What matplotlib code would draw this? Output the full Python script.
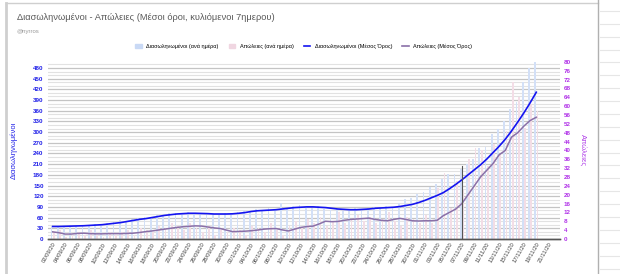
import pandas as pd
import numpy as np
import matplotlib.pyplot as plt
from matplotlib.lines import Line2D
from matplotlib.patches import Patch

plt.rcParams['font.family'] = ['Liberation Sans', 'DejaVu Sans']

# dates 02/09/20 .. 19/11/20 (one value per day)
dates = pd.date_range('2020-09-02', '2020-11-19', freq='D')
tick_dates = pd.date_range('2020-09-02', '2020-11-21', freq='2D')
tick_labels = [d.strftime('%d/%m/%y') for d in tick_dates]

# Διασωληνωμένοι ανά ημέρα (αριστερός άξονας)
intubated_daily = [36, 33, 38, 35, 37, 40, 36, 42, 41, 44,
                   47, 52, 48, 55, 58, 62, 60, 66, 68, 72,
                   74, 71, 76, 70, 73, 68, 71, 67, 72, 70,
                   76, 80, 78, 84, 82, 86, 83, 100, 88, 92,
                   95, 90, 87, 92, 85, 80, 84, 79, 83, 86,
                   84, 88, 90, 87, 92,
                   91, 102, 113, 116, 125, 133, 147, 153, 167, 181,
                   181, 195, 210, 224, 255, 258, 295, 309, 331, 365,
                   385, 441, 479, 498]
# Απώλειες ανά ημέρα (δεξιός άξονας)
deaths_daily = [3, 4, 1, 2, 3, 2, 4, 2, 1, 3,
                2, 3, 4, 2, 5, 4, 3, 6, 5, 7,
                6, 4, 7, 5, 3, 6, 2, 4, 3, 5,
                4, 2, 6, 5, 3, 7, 4, 2, 6, 8,
                5, 9, 7, 10, 6, 8, 12, 7, 9, 11,
                8, 10, 7, 9, 12, 8, 6, 10, 9, 7,
                11, 7, 23, 30, 14, 26, 22, 36, 41, 40,
                33, 43, 38, 49, 71, 64, 50, 61, 58]
# μέσοι όροι 7ημέρου
intubated_avg = [35, 35, 35.5, 36, 36.5, 37, 38, 39, 40, 42,
                 44, 46, 49, 52, 55, 57, 60, 63, 66, 68,
                 70, 71, 72, 72, 71.5, 71, 70, 70, 70, 70.5,
                 72, 74, 77, 79, 80, 81, 82, 84, 86, 88,
                 89, 90, 90, 89, 88, 86, 84, 83, 82, 82,
                 83, 84, 86, 87, 88, 89, 91, 94, 97, 102,
                 108, 115, 122, 130, 141, 153, 166, 180, 194, 208,
                 224, 242, 260, 280, 303, 328, 354, 382, 412]
deaths_avg = [3.2, 2.8, 2.2, 2.2, 2.5, 2.6, 2.4, 2.3, 2.3, 2.4,
              2.4, 2.4, 2.5, 2.6, 2.9, 3.3, 3.6, 4.0, 4.4, 4.8,
              5.2, 5.5, 5.7, 5.9, 5.8, 5.4, 5.0, 4.7, 4.0, 3.3,
              3.4, 3.5, 3.7, 4.0, 4.4, 4.6, 4.7, 4.1, 3.6, 4.4,
              5.2, 5.6, 5.8, 6.8, 8.0, 7.8, 7.9, 8.4, 8.8, 9.0,
              9.2, 9.4, 8.8, 8.4, 8.2, 8.8, 9.3, 8.8, 8.2, 8.1,
              8.2, 8.2, 8.4, 10.5, 12, 13.5, 16, 20, 24, 28,
              31, 34, 38, 40, 46, 48, 51, 53.5, 55]

x = np.arange(len(dates))
xt = np.arange(len(tick_dates)) * 2

fig = plt.figure(figsize=(6.2, 2.74), dpi=100)
ax = fig.add_axes([0.077, 0.128, 0.826, 0.646])
ax2 = ax.twinx()

ax.set_xlim(-0.8, 81.8)
ax.set_ylim(0, 497)
ax2.set_ylim(0, 80)

# πλέγμα
ax.set_yticks(np.arange(0, 481, 30))
ax.set_yticks(np.arange(0, 497, 10), minor=True)
ax.grid(axis='y', which='major', color='#c4c4c4', lw=0.9)
ax.grid(axis='y', which='minor', color='#e2e2e2', lw=0.8)
ax.set_axisbelow(True)

ax.bar(x - 0.2, intubated_daily, width=0.28, color='#d3e0f7', zorder=2)
ax.bar(x + 0.2, deaths_daily, width=0.28, color='#f3dde6', zorder=2,
       transform=ax2.transData)
ax.plot(x, intubated_avg, color='#1414f0', lw=1.2, zorder=4)
ax.plot(x, deaths_avg, color='#8a70a8', lw=1.1, zorder=3, transform=ax2.transData)

# κάθετη γραμμή 07/11
ax.plot([66, 66], [0, 205], color='#555555', lw=0.8, zorder=5)

ax2.set_yticks(np.arange(0, 81, 4))
ax.set_xticks(xt)
ax.set_xticklabels(tick_labels, rotation=60, ha='right', rotation_mode='anchor',
                   fontsize=4.2, color='#404040')
ax.tick_params(axis='x', length=0, pad=2)
ax.tick_params(axis='y', which='both', length=0, labelsize=4.5, labelcolor='#2020e8', pad=3)
ax2.tick_params(axis='y', length=0, labelsize=4.5, labelcolor='#b030e8', pad=3)
for a in (ax, ax2):
    for s in ['top', 'right', 'left']:
        a.spines[s].set_visible(False)
    a.spines['bottom'].set_color('#555555')
    a.spines['bottom'].set_linewidth(1.0)
for t in ax.get_yticklabels() + ax2.get_yticklabels():
    t.set_fontweight('bold')

ax.set_ylabel('Διασωληνωμένοι', color='#2020e8', fontsize=5.5, labelpad=11)
ax2.set_ylabel('Απώλειες', color='#b040e8', fontsize=5.5, rotation=270, labelpad=11)

fig.text(0.027, 0.935, 'Διασωληνωμένοι - Απώλειες (Μέσοι όροι, κυλιόμενοι 7ημερου)',
         fontsize=6.7, color='#595959', va='center')
fig.text(0.027, 0.885, '@nyrros', fontsize=4.3, color='#999999', va='center')

handles = [Patch(color='#c9d9f5'), Patch(color='#f0d6e1'),
           Line2D([], [], color='#1414f0', lw=1.2), Line2D([], [], color='#8a70a8', lw=1.2)]
labels = ['Διασωληνωμένοι (ανά ημέρα)', 'Απώλειες (ανά ημέρα)',
          'Διασωληνωμένοι (Μέσος Όρος)', 'Απώλειες (Μέσος Όρος)']
fig.legend(handles, labels, loc='center', bbox_to_anchor=(0.49, 0.832), ncol=4,
           frameon=False, fontsize=4.0, handlelength=1.2, handleheight=0.8,
           columnspacing=1.8, handletextpad=0.8)

# πλαίσιο κάρτας / φύλλο
fig.add_artist(Line2D([0.01, 0.01], [0, 0.99], color='#cfcfcf', lw=2))
fig.add_artist(Line2D([0.01, 0.965], [0.99, 0.99], color='#cfcfcf', lw=1))
fig.add_artist(Line2D([0.965, 0.965], [0, 1], color='#b0b0b0', lw=1))
for yy in np.arange(0.02, 1.0, 0.047):
    fig.add_artist(Line2D([0.967, 1], [yy, yy], color='#e6e6e6', lw=0.8))

fig.savefig('out.png', dpi=100)
